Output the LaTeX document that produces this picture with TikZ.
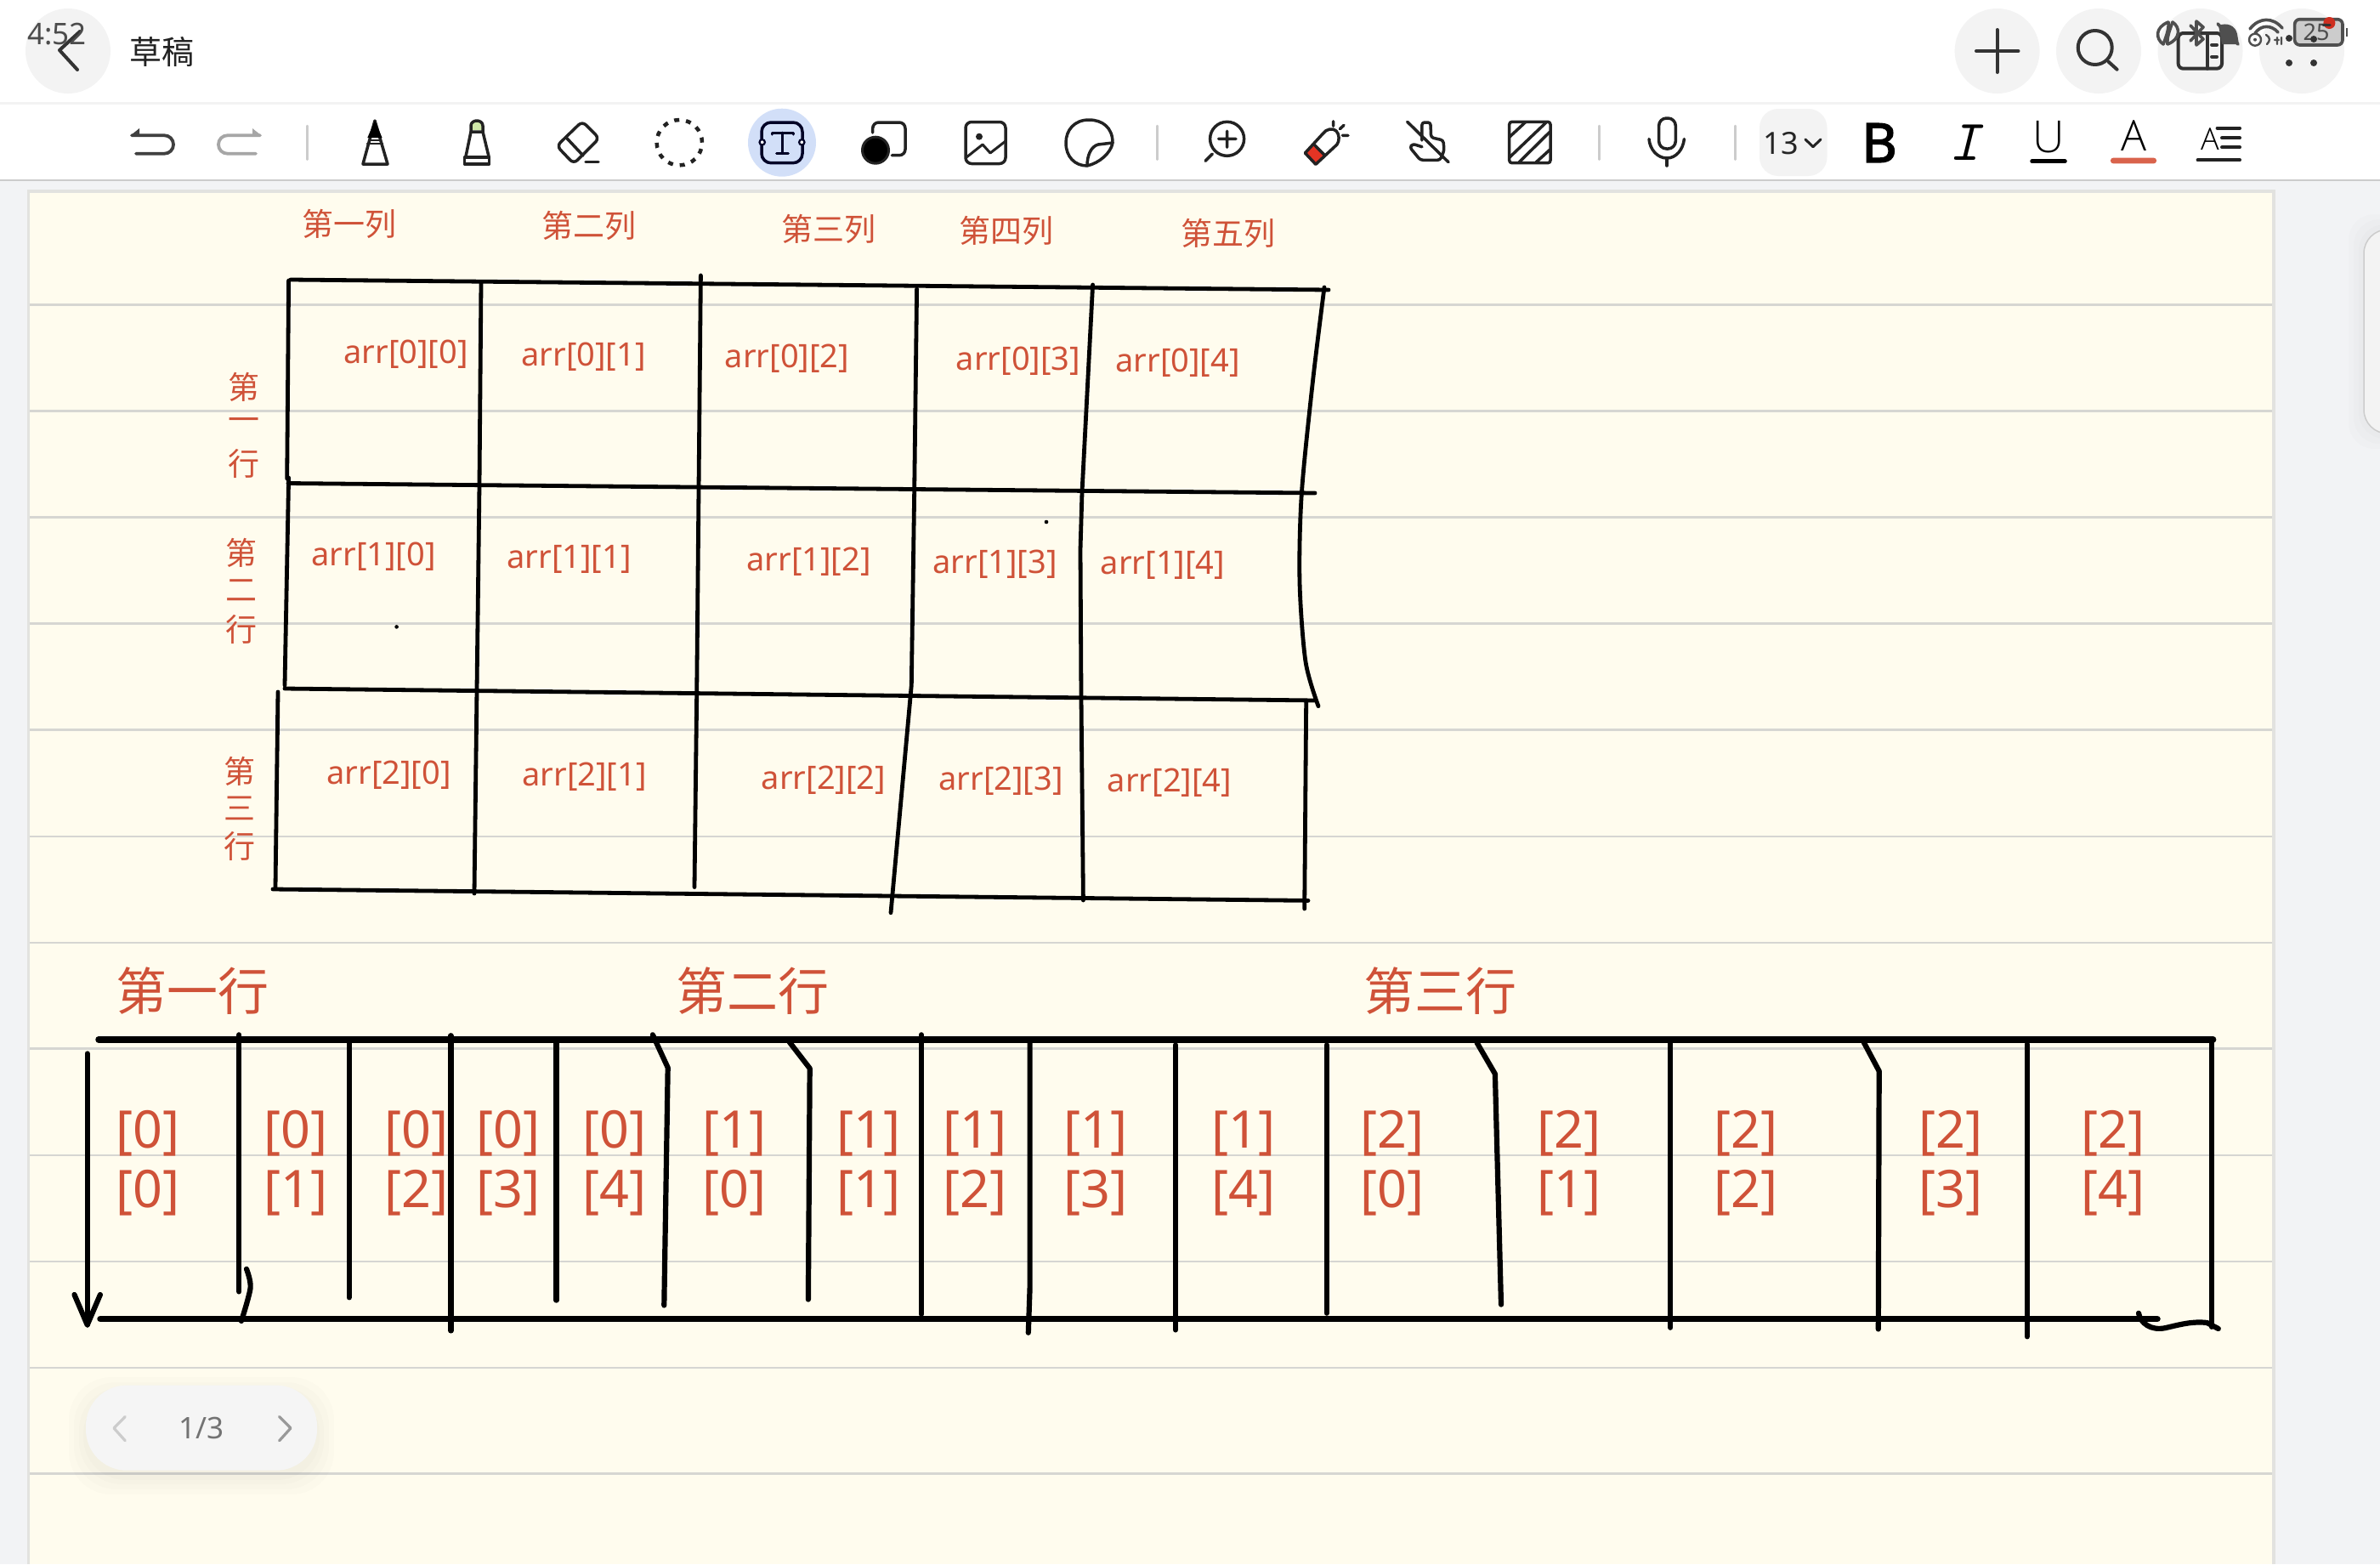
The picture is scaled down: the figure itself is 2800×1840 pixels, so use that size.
\documentclass[tikz,border=0pt]{standalone}
\usepackage{fontspec}
\setmainfont{Noto Sans}
\newfontfamily\cjk{Noto Sans CJK SC}
\newfontfamily\lightf{Open Sans Light}
\newfontfamily\heavyf[FakeBold=2.2]{Noto Sans}
\usetikzlibrary{calc}
\definecolor{paper}{HTML}{FFFCEE}
\definecolor{rulec}{HTML}{D6D6D2}
\definecolor{gutter}{HTML}{F2F3F5}
\definecolor{redtext}{HTML}{CF5238}
\definecolor{chip}{HTML}{F3F3F3}
\definecolor{ink}{HTML}{222222}
\definecolor{status}{HTML}{4F4F4F}
\definecolor{selblue}{HTML}{D2DFF8}
\definecolor{tipgreen}{HTML}{CFE8A8}
\definecolor{pillred}{HTML}{E53424}
\definecolor{underred}{HTML}{D9634C}
\newcommand{\fsz}[1]{\fontsize{#1}{#1}\selectfont}
\tikzset{
  hw/.style={line width=4.8pt,line cap=round,line join=round,black},
  sw/.style={line width=6.2pt,line cap=round,line join=round,black},
  sthick/.style={line width=7.5pt,line cap=round,black},
  ruleline/.style={line width=2.6pt,rulec},
  icon/.style={line width=3.5pt,ink,line cap=round,line join=round},
  topicon/.style={line width=4pt,black!80,line cap=round,line join=round},
  stat/.style={line width=3.6pt,status,line cap=round,line join=round},
  sepline/.style={line width=2.5pt,black!20,line cap=round},
  cell/.style={inner sep=0pt,text=redtext,font=\fsz{38}},
  colhead/.style={inner sep=0pt,text=redtext,font=\cjk\fsz{37}},
  rowhead/.style={inner sep=0pt,text=redtext,font=\cjk\fsz{37}},
  bighead/.style={inner sep=0pt,text=redtext,font=\cjk\fsz{60}},
  idx/.style={inner sep=0pt,text=redtext,align=center,font=\fontsize{61}{70}\selectfont},
  roundbtn/.style={fill=chip,draw=none},
}
\begin{document}
\begin{tikzpicture}[x=1pt,y=-1pt]
\useasboundingbox (0,0) rectangle (2800,1840);
% backgrounds
\fill[white] (0,0) rectangle (2800,1840);
\fill[chip] (0,120) rectangle (2800,123);
\fill[gutter] (0,213) rectangle (2800,1840);
\draw[line width=2pt,black!20] (0,212) -- (2800,212);
\fill[rulec!70!white] (32,223) rectangle (2677,1840);
\fill[paper] (35,227) rectangle (2673,1840);
\foreach \yy in {358.5,483.5,608.5,733.5,858.5,984,1109,1233.5,1359,1484,1609,1733.5}
  \draw[ruleline] (35,\yy) -- (2673,\yy);
% side handle
\foreach \oo in {18,12,6}
  \fill[black,opacity=0.012] (2781-\oo,270-\oo) [rounded corners=30pt] rectangle (2830,510+\oo);
\draw[line width=1.5pt,black!20,fill=chip,rounded corners=28pt] (2781,270) rectangle (2830,510);

% ===== title bar =====
\fill[roundbtn] (80,60) circle (50pt);
\draw[topicon] (94,37) -- (70,59) -- (91,82);
\node[inner sep=0pt,text=black!70,font=\fsz{35}] (clock) at (67,40) {4:52};
\node[inner sep=0pt,text=ink,font=\cjk\fsz{38}] (title) at (190,61) {草稿};
\fill[roundbtn] (2349.6,60) circle (50pt);
\fill[roundbtn] (2469,60) circle (50pt);
\fill[roundbtn] (2588.5,60) circle (50pt);
\fill[roundbtn] (2708,60) circle (50pt);
\draw[topicon] (2325,60) -- (2347,60) (2353,60) -- (2374.5,60) (2349.6,35) -- (2349.6,85);
\draw[topicon] (2464.7,56) circle (20pt);
\draw[topicon] (2480.6,72.7) -- (2490.6,81.7);
\draw[topicon,rounded corners=6pt] (2562.6,39) rectangle (2614,80.7);
\draw[topicon] (2596.7,39) -- (2596.7,80.7) (2602,52.7) -- (2608,52.7) (2602,66.7) -- (2608,66.7);
% status icons
\draw[stat] (2551,26) .. controls (2535,32) and (2536,46) .. (2545,52) .. controls (2548,44) and (2552,34) .. (2551,26);
\draw[stat] (2550,52) .. controls (2566,46) and (2565,32) .. (2556,26) .. controls (2553,34) and (2549,44) .. (2550,52);
\draw[stat] (2577,30) -- (2592,46) -- (2584,53) -- (2584,25) -- (2592,32) -- (2577,48);
\fill[status] (2610,30) .. controls (2620,26) and (2630,30) .. (2632,40) -- (2634,52) -- (2614,52) -- cycle;
\draw[stat] (2609,28) -- (2633,52);
\draw[stat] (2647,34) .. controls (2658,20) and (2674,20) .. (2685,33);
\draw[stat] (2653,39) .. controls (2660,29) and (2672,29) .. (2680,38);
\draw[stat,line width=2.4pt] (2653,46.7) circle (7pt);
\fill[status] (2653,46.7) circle (2pt);
\draw[stat,line width=2.4pt] (2666,41) .. controls (2671,44) and (2671,48) .. (2667,52) (2676,47) -- (2681,47) (2679,44) -- (2679,52) (2684,44) -- (2684,52);
\draw[stat,fill=black!20,rounded corners=6pt] (2699.6,22.7) rectangle (2756,53);
\fill[status] (2760,33) rectangle (2762,43);
\fill[pillred!90!black] (2740.4,27) circle (7pt);
\node[inner sep=0pt,text=black!70,font=\fsz{27}] (battery) at (2725,38) {25};
\draw[topicon,line width=3pt] (2733,29) -- (2741,29);
\foreach \px/\py in {2693/45,2722/46,2693/74,2722/74}
  \fill[black!80] (\px,\py) circle (4pt);

% ===== toolbar =====
\draw[line width=3.8pt,black!75,line cap=round,rounded corners=10.5pt] (155,159.3) -- (204,159.3) -- (204,180.7) -- (160,180.7);
\fill[black!75] (154,159) -- (164,151) -- (164,161) -- cycle;
\draw[line width=3.8pt,black!35,line cap=round,rounded corners=10.5pt] (306,159.3) -- (257,159.3) -- (257,180.7) -- (301,180.7);
\fill[black!35] (307,159) -- (297,151) -- (297,161) -- cycle;
\draw[sepline] (361.3,148) -- (361.3,187.7);
% pen
\draw[icon] (441,142) -- (427,193) -- (456,193) -- cycle;
\fill[black] (441,142) -- (432.3,162) -- (449.6,162) -- cycle;
\draw[icon,line width=2.5pt] (434,165) -- (448,165) (432,169) -- (450,169);
% marker
\fill[tipgreen] (554,153) -- (554,148) .. controls (554,140) and (568,140) .. (568,148) -- (568,153) -- cycle;
\draw[icon] (554,155) -- (554,148) .. controls (554,140) and (568,140) .. (568,148) -- (568,155) -- cycle;
\draw[icon] (554,155) -- (548,184) (568,155) -- (575,184);
\draw[icon] (546.5,185) rectangle (575.5,193);
% eraser
\draw[icon,rounded corners=6pt] (685,142.7) -- (705,162.7) -- (675,192.7) -- (655,171.7) -- cycle;
\draw[icon] (666,161.7) -- (686,183);
\draw[icon] (689,190.7) -- (704,190.7);
% lasso
\draw[line width=4.5pt,ink,dash pattern=on 6pt off 8pt] (799.3,167.7) circle (26.7pt);
% text tool
\fill[selblue] (920,167.7) circle (40pt);
\draw[icon,black!85!blue,rounded corners=11pt] (896,144) rectangle (944,191.7);
\draw[icon,black!85!blue,line width=3pt] (908,158) -- (908,156) -- (933,156) -- (933,158) (920.3,156) -- (920.3,180.7) (913.5,180.7) -- (927.3,180.7);
\draw[line width=2.2pt,black!85!blue,fill=white] (896.7,167.3) circle (3.2pt);
\draw[line width=2.2pt,black!85!blue,fill=white] (943.3,167.3) circle (3.2pt);
% shape tool
\draw[icon,rounded corners=7pt] (1026.7,156) -- (1026.7,144) -- (1065,144) -- (1065,182.7) -- (1049.3,182.7);
\draw[line width=3pt,ink,fill=black] (1030,176.7) circle (15.5pt);
% image tool
\draw[icon,rounded corners=7pt] (1136,143.5) rectangle (1183,192.5);
\fill[ink] (1152,160.7) circle (4pt);
\draw[icon,line width=3pt] (1137,185) -- (1156,170) -- (1165,180) -- (1183,166);
% sticker tool
\draw[icon] (1309,168) .. controls (1309,150) and (1297,141) .. (1281,141) .. controls (1264,141) and (1254,153) .. (1254,168) .. controls (1254,184) and (1264,195) .. (1279,195);
\draw[icon] (1309,168) -- (1292,170) .. controls (1284,172) and (1279,182) .. (1279,195) .. controls (1293,192) and (1307,180) .. (1309,168);
\draw[sepline] (1361.6,148) -- (1361.6,187.7);
% zoom
\draw[icon] (1443.6,163.3) circle (20pt);
\draw[icon] (1433.6,163.3) -- (1454,163.3) (1443.6,154.3) -- (1443.6,173.3) (1426.4,181) -- (1418,189.3);
% clear eraser
\fill[pillred] (1535.4,180) -- (1546,170) -- (1557.5,181.7) -- (1547.9,193.3) -- cycle;
\draw[icon] (1535.4,180) -- (1556.8,156.7) .. controls (1560,152) and (1568,150) .. (1572,154) .. controls (1576,158) and (1576,166) .. (1572.9,170) -- (1547.9,193.3) -- cycle;
\draw[icon] (1546,170) -- (1557.5,181.7);
\draw[icon] (1568.6,142.7) -- (1568.6,148.3) (1576.4,151.7) -- (1581,147.3) (1579.3,159.3) -- (1586,159.3);
% no-touch
\draw[icon] (1655.7,143.3) -- (1704,190.7);
\draw[icon,rounded corners=3pt] (1672.9,165) -- (1672.9,144) -- (1682.9,144) -- (1683.6,161.7) -- (1697.9,165) -- (1699,176.7) -- (1694.3,188.3) -- (1671,188.3) -- (1658.6,173.3) -- (1662,169.3) -- (1672.9,172.7);
% hatch
\draw[icon,rounded corners=3pt] (1775.7,143.3) rectangle (1824,191.7);
\draw[icon,line cap=butt] (1776,161) -- (1794.3,144) (1776,185) -- (1819,144) (1787,191) -- (1823.5,155) (1807,191) -- (1823.5,176);
\draw[sepline] (1881.4,148) -- (1881.4,187.7);
% mic
\draw[icon,rounded corners=9pt] (1951.6,139) rectangle (1971.3,175);
\draw[icon] (1940,163.5) .. controls (1941,176) and (1950,186) .. (1961,186) .. controls (1972,186) and (1980,176) .. (1981.4,163.5);
\draw[icon] (1961,186) -- (1961,195);
\draw[sepline] (2041.6,148) -- (2041.6,187.7);
% format group
\fill[chip,rounded corners=22pt] (2070,128) rectangle (2149.5,207);
\node[inner sep=0pt,text=black!85,font=\fsz{36}] (fontsize) at (2095,169) {13};
\draw[icon,line width=3pt] (2124,164) -- (2133,172.7) -- (2142,164);
\node[inner sep=0pt,text=black,font=\heavyf\bfseries\fsz{64}] (boldb) at (2211,168) {B};
\node[inner sep=0pt,text=black,font=\ttfamily\itshape\fsz{68}] (itali) at (2311,168) {I};
\node[inner sep=0pt,text=black,font=\lightf\fsz{52}] (underu) at (2410,161) {U};
\draw[line width=4.5pt,black,line cap=round] (2390.5,189.7) -- (2429.5,189.7);
\node[inner sep=0pt,text=black,font=\lightf\fsz{50}] (colora) at (2510,160) {A};
\fill[underred,rounded corners=3pt] (2483,185.7) rectangle (2537,192.3);
\node[inner sep=0pt,text=black,font=\lightf\fsz{36}] (parama) at (2600,163.5) {A};
\draw[icon,line width=4pt] (2608.6,150.7) -- (2635,150.7) (2614,162.3) -- (2635,162.3) (2614,173.3) -- (2635,173.3) (2585.6,188.3) -- (2635,188.3);

% ===== table =====
\draw[hw] (342,329) -- (1563,341);
\draw[hw] (339,568.5) -- (1547,580);
\draw[hw] (335,810) -- (1548,824);
\draw[hw] (321,1046) -- (1539,1059.4);
\draw[hw] (339.6,330) -- (337.7,563);
\draw[hw] (339.6,562) -- (335,806);
\draw[hw] (327,814) -- (324,1044.6);
\draw[hw] (566,332) -- (564,570) -- (561,811.5) -- (558,1051);
\draw[hw] (824.4,324) -- (822,575.6) -- (819.7,817) -- (817,1043.5);
\draw[hw] (1078.6,340) -- (1075.7,577) -- (1072.3,806) -- (1048,1073.7);
\draw[hw] (1285.6,335) -- (1273,579) -- (1271,647) -- (1272,821) -- (1274.4,1059);
\draw[hw] plot[smooth] coordinates {(1558,338) (1544.4,449) (1531.3,581) (1529,685) (1536,778.5) (1551,830.7)};
\draw[hw] (1536.7,825) -- (1534.7,1069);
\fill[black] (466.6,737.4) circle (2.3pt);
\fill[black] (1231,614) circle (2.3pt);

\node[colhead] (c1) at (411,263) {第一列};
\node[colhead] (c2) at (693,265.7) {第二列};
\node[colhead] (c3) at (975,269.5) {第三列};
\node[colhead] (c4) at (1184,271) {第四列};
\node[colhead] (c5) at (1445,274) {第五列};

\node[rowhead] (r1a) at (286.7,455) {第};
\node[rowhead] (r1b) at (286.7,500) {一};
\node[rowhead] (r1c) at (286.7,545) {行};
\node[rowhead] (r2a) at (284,650.7) {第};
\node[rowhead] (r2b) at (284,694.6) {二};
\node[rowhead] (r2c) at (284,740) {行};
\node[rowhead] (r3a) at (281.5,907.5) {第};
\node[rowhead] (r3b) at (281.5,951) {三};
\node[rowhead] (r3c) at (281.5,995) {行};

\node[cell] (a00) at (477.5,417) {arr[0][0]};
\node[cell] (a01) at (686.5,419.5) {arr[0][1]};
\node[cell] (a02) at (926,421.5) {arr[0][2]};
\node[cell] (a03) at (1198,424.5) {arr[0][3]};
\node[cell] (a04) at (1385.6,426.5) {arr[0][4]};
\node[cell] (a10) at (439.5,655) {arr[1][0]};
\node[cell] (a11) at (669.5,657.5) {arr[1][1]};
\node[cell] (a12) at (951.5,661) {arr[1][2]};
\node[cell] (a13) at (1170.5,663.5) {arr[1][3]};
\node[cell] (a14) at (1368,665) {arr[1][4]};
\node[cell] (a20) at (457.5,911.5) {arr[2][0]};
\node[cell] (a21) at (687.5,914) {arr[2][1]};
\node[cell] (a22) at (969,917.5) {arr[2][2]};
\node[cell] (a23) at (1177.5,919) {arr[2][3]};
\node[cell] (a24) at (1376,921) {arr[2][4]};

% ===== memory strip =====
\node[bighead] (s1) at (226,1166) {第一行};
\node[bighead] (s2) at (885,1166) {第二行};
\node[bighead] (s3) at (1694,1166) {第三行};

\draw[sthick] (116,1222.8) -- (2603.6,1222.8);
\draw[sthick] (118,1551.6) -- (2538,1551.6);
\draw[sw] (102.7,1239.4) -- (102.7,1558.5);
\draw[sw] (87.5,1523) -- (102.7,1558.5) -- (117.9,1523);
\draw[sw] (281.3,1217.3) -- (281.3,1519.4);
\draw[sw] plot[smooth] coordinates {(290,1492.8) (294.6,1514.9) (284,1553.9)};
\draw[sw] (410.7,1225.6) -- (410.7,1526.3);
\draw[sw] (530.4,1218.2) -- (530.4,1565.4);
\draw[sw] (654.5,1225.6) -- (654.5,1529.6);
\draw[sw] (767.9,1217.3) -- (785.7,1255.9) -- (781.3,1535.5);
\draw[sw] (928.6,1225.6) -- (952.7,1256.8) -- (950.9,1528.6);
\draw[sw] (1083.9,1217.3) -- (1083.9,1546);
\draw[sw] (1211.6,1225.6) -- (1211.6,1514.9) -- (1209.8,1567.7);
\draw[sw] (1383,1229.3) -- (1383,1564.4);
\draw[sw] (1560.7,1229.3) -- (1560.7,1544.7);
\draw[sw] (1737.5,1226.5) -- (1758.9,1263.3) -- (1766,1534.6);
\draw[sw] (1965.2,1225.6) -- (1965.2,1561.7);
\draw[sw] (2192.9,1226.5) -- (2210.7,1260) -- (2209.8,1563.5);
\draw[sw] (2384.8,1228.4) -- (2384.8,1572.3);
\draw[sw] (2601.8,1222.8) -- (2601.8,1560.8);
\draw[sw] (2516,1544.7) .. controls (2518,1556) and (2530,1566) .. (2548,1562) .. controls (2565,1558) and (2580,1554) .. (2596.4,1556) -- (2609.8,1563);

\node[idx] (m00) at (174,1368.6) {[0]\\{[0]}};
\node[idx] (m01) at (348,1368.6) {[0]\\{[1]}};
\node[idx] (m02) at (490,1368.6) {[0]\\{[2]}};
\node[idx] (m03) at (598,1368.6) {[0]\\{[3]}};
\node[idx] (m04) at (723,1368.6) {[0]\\{[4]}};
\node[idx] (m10) at (864,1368.6) {[1]\\{[0]}};
\node[idx] (m11) at (1022,1368.6) {[1]\\{[1]}};
\node[idx] (m12) at (1147,1368.6) {[1]\\{[2]}};
\node[idx] (m13) at (1289,1368.6) {[1]\\{[3]}};
\node[idx] (m14) at (1463,1368.6) {[1]\\{[4]}};
\node[idx] (m20) at (1638,1368.6) {[2]\\{[0]}};
\node[idx] (m21) at (1846,1368.6) {[2]\\{[1]}};
\node[idx] (m22) at (2053.6,1368.6) {[2]\\{[2]}};
\node[idx] (m23) at (2294.6,1368.6) {[2]\\{[3]}};
\node[idx] (m24) at (2485.7,1368.6) {[2]\\{[4]}};

% ===== pager =====
\foreach \oo in {20,14,8,3}
  \fill[black,opacity=0.012,rounded corners=50pt] (101-\oo,1640-\oo) rectangle (373+\oo,1738+\oo);
\fill[white!96!black,rounded corners=48pt] (101,1629.6) rectangle (373,1729.7);
\draw[line width=3.2pt,black!20,line cap=round,line join=round] (147.3,1666.4) -- (134,1680) -- (147.3,1694.8);
\draw[line width=3.2pt,black!40,line cap=round,line join=round] (328.6,1666.4) -- (342,1680) -- (328.6,1694.8);
\node[inner sep=0pt,text=black!55,font=\fsz{35}] (pager) at (236.6,1680) {1/3};
\end{tikzpicture}
\end{document}
